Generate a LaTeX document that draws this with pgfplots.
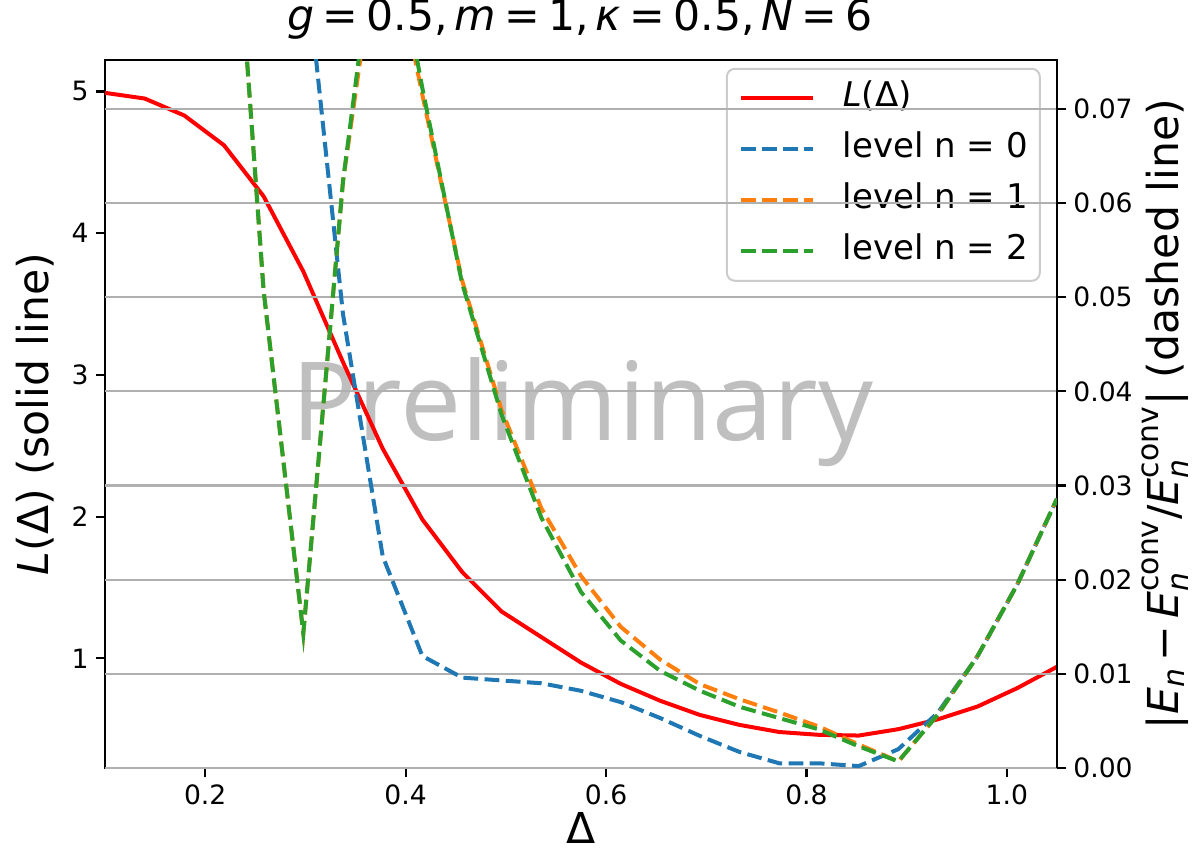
\documentclass[border=0pt]{standalone}
\usepackage{fontspec}
\setmainfont{DejaVu Sans}
\newfontfamily\wmfont{Open Sans}
\usepackage{amsmath}
\usepackage{pgfplots}
\pgfplotsset{compat=1.18}
\usepackage{pgfplotstable}
\definecolor{tabblue}{HTML}{1F77B4}
\definecolor{taborange}{HTML}{FF7F0E}
\definecolor{tabgreen}{HTML}{2CA02C}
\definecolor{gridgray}{HTML}{B0B0B0}
\definecolor{mplred}{HTML}{FF0000}

\pgfplotstableread{
x       L      n0      n1      n2
0.1000  4.99   0.22    0.25    0.25
0.1396  4.95   0.20    0.20    0.20
0.1792  4.83   0.18    0.16    0.16
0.2188  4.62   0.15    0.109   0.109
0.2583  4.26   0.12    0.0507  0.0507
0.2979  3.73   0.0881  0.0143  0.0143
0.3375  3.09   0.0482  0.0623  0.0623
0.3771  2.48   0.0225  0.092   0.095
0.4167  1.98   0.0119  0.0715  0.0722
0.4563  1.61   0.0096  0.0518  0.0515
0.4958  1.33   0.0093  0.0380  0.0375
0.5354  1.15   0.0090  0.0276  0.0266
0.5750  0.97   0.0082  0.0204  0.0187
0.6146  0.82   0.0070  0.0150  0.01355
0.6542  0.70   0.0053  0.0115  0.0103
0.6938  0.60   0.0034  0.0089  0.0082
0.7333  0.53   0.0017  0.0073  0.0065
0.7729  0.48   0.0005  0.0059  0.0053
0.8125  0.46   0.0005  0.0044  0.0041
0.8521  0.455  0.0002  0.0025  0.0023
0.8917  0.50   0.0020  0.0007  0.0007
0.9313  0.57   0.0059  0.0057  0.0057
0.9708  0.66   0.0119  0.0119  0.0119
1.0104  0.79   0.0195  0.0195  0.0195
1.0500  0.94   0.0286  0.0286  0.0286
}\datatable

\pgfplotsset{
  common/.style={
    scale only axis, width=476pt, height=354pt,
    xmin=0.1, xmax=1.05,
    tick align=outside, major tick length=4.7pt,
    every tick/.append style={black, line width=1.07pt},
    axis line style={line width=1.07pt},
    tick label style={font=\fontsize{13.3}{16}\selectfont},
    /pgf/number format/assume math mode=true,
    label style={font=\fontsize{21.3}{25}\selectfont},
    legend image code/.code={\draw[#1] (0pt,0pt) -- (36pt,0pt);},
  },
  dashedmpl/.style={line width=2pt, dash pattern=on 7.4pt off 3.2pt},
}

\begin{document}
\begin{tikzpicture}
\path[use as bounding box] (-52.5pt,-44.5pt) rectangle (544pt,384pt);
\begin{axis}[common,
  ymin=0.226, ymax=5.222,
  xtick={0.2,0.4,0.6,0.8,1.0}, xticklabels={0.2,0.4,0.6,0.8,1.0},
  ytick={1,2,3,4,5},
  xtick pos=left, ytick pos=left,
  xlabel={Δ},
  xlabel style={at={(0.5,-0.106)}, anchor=base},
  ylabel={\textit{L}(Δ) (solid line)},
  ylabel style={at={(-0.0735,0.5)}, anchor=center},
  title={\textit{g}\hspace{0.2em}=\hspace{0.2em}0.5,\hspace{0.15em}\textit{m}\hspace{0.2em}=\hspace{0.2em}1,\hspace{0.15em}\textit{κ}\hspace{0.2em}=\hspace{0.2em}0.5,\hspace{0.15em}\textit{N}\hspace{0.2em}=\hspace{0.2em}6},
  title style={at={(0.499,1.0254)}, anchor=base, font=\fontsize{21.3}{25}\selectfont},
  legend cell align=left,
  legend style={at={(0.983,0.989)}, anchor=north east,
    font=\fontsize{17}{20}\selectfont,
    draw=black!20, line width=1pt, rounded corners=4pt, fill=white, fill opacity=0.8, text opacity=1,
    inner xsep=6pt, inner ysep=6.5pt,
    nodes={inner ysep=0pt, inner xsep=0pt, text height=12.5pt, text depth=4pt},
    column sep=14pt, row sep=9pt},
]
\node[font=\wmfont\fontsize{54.6}{60}\selectfont, text=black!25, anchor=base, inner sep=0pt]
  at (rel axis cs:0.5016,0.462) {Preliminary};
\addplot[mplred, line width=2pt] table[x=x, y=L] {\datatable};
\addlegendentry{\textit{L}(Δ)}
\addlegendimage{tabblue, dashedmpl}
\addlegendentry{level n = 0}
\addlegendimage{taborange, dashedmpl}
\addlegendentry{level n = 1}
\addlegendimage{tabgreen, dashedmpl}
\addlegendentry{level n = 2}
\end{axis}

\begin{axis}[common,
  ymin=0, ymax=0.0752,
  axis x line=none, axis y line*=right,
  ytick={0,0.01,0.02,0.03,0.04,0.05,0.06,0.07},
  scaled y ticks=false,
  yticklabel style={/pgf/number format/.cd, fixed, fixed zerofill, precision=2},
  ymajorgrids, major grid style={gridgray, line width=1.07pt},
  ylabel={$\text{|}\textit{E}_{\textit{n}}\,\text{−}\,\textit{E}_{\textit{n}}^{\text{conv}}\text{/}\textit{E}_{\textit{n}}^{\text{conv}}\text{|}$ (dashed line)},
  ylabel style={at={(1.1134,0.5)}, anchor=center, rotate=0},
]
\addplot[tabblue, dashedmpl] table[x=x, y=n0] {\datatable};
\addplot[taborange, dashedmpl] table[x=x, y=n1] {\datatable};
\addplot[tabgreen, dashedmpl] table[x=x, y=n2] {\datatable};
\end{axis}
\end{tikzpicture}
\end{document}
